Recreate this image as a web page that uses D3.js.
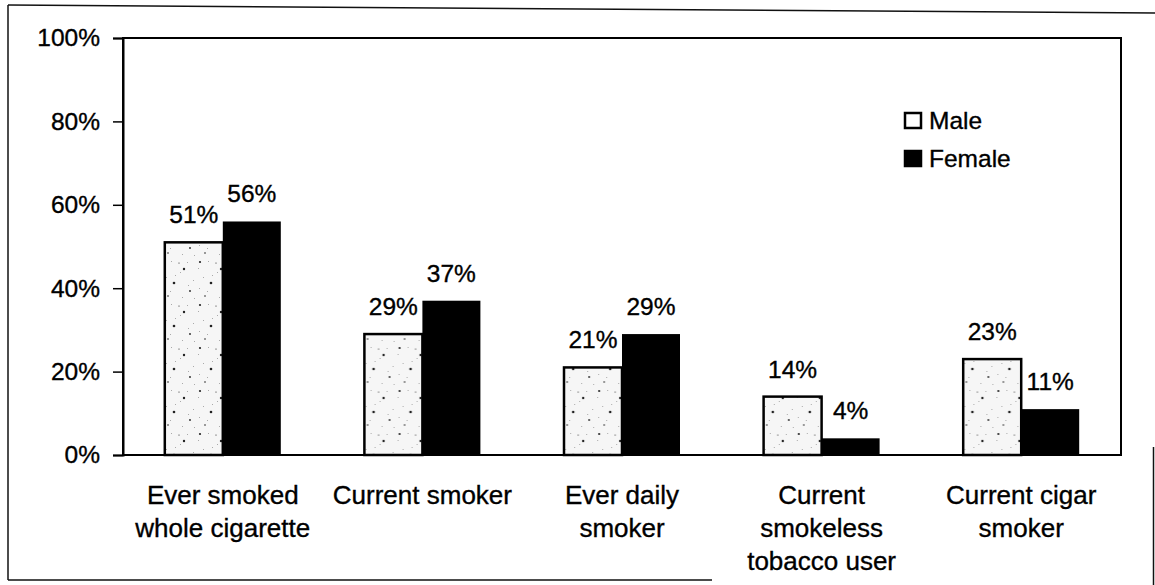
<!DOCTYPE html>
<html>
<head>
<meta charset="utf-8">
<script src="https://cdn.jsdelivr.net/npm/d3@7"></script>
<style>
  html, body { margin: 0; padding: 0; background: #fff; }
  svg { display: block; font-family: "Liberation Sans", Arial, Helvetica, sans-serif; }
  text { stroke: #000; stroke-width: 0.35px; }
</style>
</head>
<body>
<svg id="chart" width="1155" height="585"></svg>
<script>
// ---- data ----
const categories = [
  ["Ever smoked", "whole cigarette"],
  ["Current smoker"],
  ["Ever daily", "smoker"],
  ["Current", "smokeless", "tobacco user"],
  ["Current cigar", "smoker"]
];
const seriesNames = ["Male", "Female"];
const maleValues = [51, 29, 21, 14, 23];
const femaleValues = [56, 37, 29, 4, 11];
const yTicks = [0, 20, 40, 60, 80, 100];

// ---- layout ----
const svg = d3.select("#chart");
const plot = { left: 123, right: 1121, top: 38, bottom: 455 };
const catKeys = categories.map(c => c.join(" "));

const x0 = d3.scaleBand().domain(catKeys).range([plot.left, plot.right]).padding(0);
const barW = 58;
const x1 = d3.scaleBand().domain(seriesNames)
  .range([x0.bandwidth() / 2 - barW, x0.bandwidth() / 2 + barW]).padding(0);
const y = d3.scaleLinear().domain([0, 100]).range([plot.bottom, plot.top]);

// pattern for speckled male bars
const defs = svg.append("defs");
const pat = defs.append("pattern").attr("id", "speckle")
  .attr("patternUnits", "userSpaceOnUse").attr("width", 37).attr("height", 43);
pat.append("rect").attr("width", 37).attr("height", 43).attr("fill", "#f6f6f6");
const dots = [[3,4,1.1],[24,11,1.2],[14,25,1.3],[30,33,0.9],[8,38,0.8],[19,5,0.6]];
pat.selectAll("circle").data(dots).join("circle")
  .attr("cx", d => d[0]).attr("cy", d => d[1]).attr("r", d => d[2]).attr("fill", "#222");
const grain = [[1,10],[6,19],[11,3],[20,14],[27,4],[2,30],[15,17],[33,22],[10,33],[22,39],[34,40],[28,27]];
pat.selectAll("rect.g").data(grain).join("rect").attr("class","g")
  .attr("x", d => d[0]).attr("y", d => d[1]).attr("width", 1).attr("height", 1).attr("fill", "#aaa");

// outer border (scan frame)
const frame = svg.append("g").attr("fill", "none").attr("stroke", "#111").attr("stroke-width", 1.5);
frame.append("line").attr("x1", 8).attr("y1", 5).attr("x2", 1155).attr("y2", 13);
frame.append("line").attr("x1", 8).attr("y1", 5).attr("x2", 8).attr("y2", 580);
frame.append("line").attr("x1", 8).attr("y1", 580).attr("x2", 712).attr("y2", 580);
frame.append("line").attr("x1", 1153.5).attr("y1", 447).attr("x2", 1153.5).attr("y2", 585);

// bars
const groups = svg.append("g").selectAll("g").data(catKeys).join("g")
  .attr("transform", d => `translate(${x0(d)},0)`);

const rows = catKeys.map((k, i) => [
  { cat: k, s: "Male", v: maleValues[i] },
  { cat: k, s: "Female", v: femaleValues[i] }
]);

groups.each(function(k, i) {
  const g = d3.select(this);
  g.selectAll("rect").data(rows[i]).join("rect")
    .attr("x", d => x1(d.s))
    .attr("y", d => y(d.v))
    .attr("width", x1.bandwidth())
    .attr("height", d => y(0) - y(d.v))
    .attr("fill", d => d.s === "Male" ? "url(#speckle)" : "#000")
    .attr("stroke", "#000")
    .attr("stroke-width", d => d.s === "Male" ? 2.5 : 0);
  g.selectAll("text").data(rows[i]).join("text")
    .attr("x", d => x1(d.s) + x1.bandwidth() / 2)
    .attr("y", d => y(d.v) - 19)
    .attr("text-anchor", "middle")
    .attr("font-size", 24.5)
    .attr("fill", "#000")
    .text(d => d.v + "%");
});

// plot frame
svg.append("rect")
  .attr("x", plot.left).attr("y", plot.top)
  .attr("width", plot.right - plot.left).attr("height", plot.bottom - plot.top)
  .attr("fill", "none").attr("stroke", "#000").attr("stroke-width", 2);

// y axis
const yAxis = svg.append("g").attr("transform", `translate(${plot.left},0)`)
  .call(d3.axisLeft(y).tickValues(yTicks).tickSize(10).tickPadding(13).tickFormat(d => d + "%"));
yAxis.select(".domain").attr("stroke", "#000").attr("stroke-width", 2);
yAxis.selectAll(".tick line").attr("stroke", "#000").attr("stroke-width", 1.5);
yAxis.selectAll(".tick text").attr("font-size", 24.5).attr("fill", "#000")
  .attr("font-family", "Liberation Sans, Arial, sans-serif");

// category labels
const catG = svg.append("g");
categories.forEach((lines, i) => {
  const cx = x0(catKeys[i]) + x0.bandwidth() / 2;
  const t = catG.append("text")
    .attr("x", cx)
    .attr("y", 504)
    .attr("text-anchor", "middle")
    .attr("font-size", 26)
    .attr("fill", "#000");
  lines.forEach((ln, j) => {
    t.append("tspan").attr("x", cx).attr("dy", j === 0 ? 0 : 33).text(ln);
  });
});

// legend
const legend = svg.append("g").attr("transform", "translate(904,112)");
seriesNames.forEach((s, i) => {
  const row = legend.append("g").attr("transform", `translate(0,${i * 38})`);
  row.append("rect").attr("x", 1).attr("y", 1).attr("width", 16).attr("height", 15)
    .attr("fill", s === "Male" ? "#fff" : "#000")
    .attr("stroke", "#000").attr("stroke-width", 2.5);
  row.append("text").attr("x", 25).attr("y", 16.5).attr("font-size", 24.5).attr("fill", "#000").text(s);
});
</script>
</body>
</html>
